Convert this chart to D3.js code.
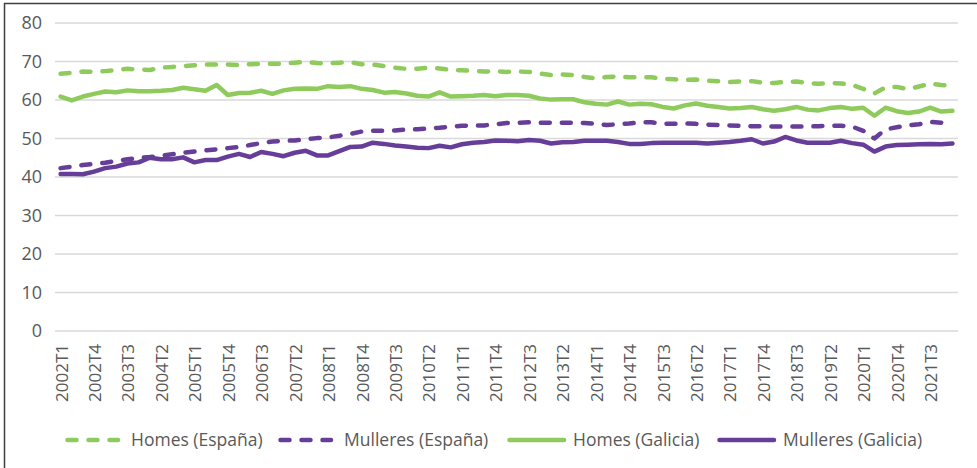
<!DOCTYPE html>
<html>
<head>
<meta charset="utf-8">
<script src="https://cdn.jsdelivr.net/npm/d3@7"></script>
<style>
  body { margin: 0; background: #fff; }
  svg { display: block; font-family: "Open Sans", sans-serif; }
</style>
</head>
<body>
<div id="chart"></div>
<script>
// quarters 2002T1 .. 2022T1
var quarters = [];
for (var y = 2002; y <= 2022; y++) {
  for (var q = 1; q <= 4; q++) {
    if (y == 2022 && q > 1) break;
    quarters.push(y + "T" + q);
  }
}

var homesEspana = [66.8, 67.1, 67.4, 67.3, 67.5, 67.8, 68.1, 67.9, 67.8, 68.4, 68.6, 68.8, 69.0, 69.2, 69.2, 69.2, 69.1, 69.3, 69.4, 69.4,
  69.4, 69.7, 69.9, 69.6, 69.5, 69.7, 69.8, 69.3, 69.2, 68.8, 68.4, 68.1, 68.1, 68.4, 68.2, 67.8, 67.7, 67.6, 67.4, 67.5,
  67.3, 67.4, 67.3, 66.9, 66.5, 66.6, 66.5, 66.0, 65.6, 66.0, 66.1, 65.9, 65.9, 65.9, 65.5, 65.4, 65.2, 65.3, 65.0, 64.9,
  64.7, 64.8, 64.9, 64.5, 64.4, 64.7, 64.8, 64.4, 64.2, 64.4, 64.3, 63.9, 62.9, 61.7, 63.3, 63.4, 62.8, 63.5, 64.3, 63.9, 63.6];

var mulleresEspana = [42.3, 42.7, 43.1, 43.4, 43.7, 44.2, 44.6, 45.0, 45.2, 45.5, 45.9, 46.3, 46.6, 46.9, 47.2, 47.5, 47.8, 48.3, 48.8, 49.2,
  49.4, 49.5, 49.8, 50.1, 50.3, 50.7, 51.2, 51.8, 52.0, 52.0, 52.1, 52.3, 52.4, 52.6, 52.8, 53.1, 53.3, 53.4, 53.4, 53.7,
  54.0, 54.1, 54.2, 54.1, 54.1, 54.1, 54.1, 54.0, 53.8, 53.5, 53.7, 53.9, 54.2, 54.2, 53.8, 53.8, 53.9, 53.8, 53.6, 53.5,
  53.4, 53.3, 53.2, 53.2, 53.1, 53.1, 53.1, 53.1, 53.2, 53.3, 53.3, 53.1, 52.0, 50.0, 52.4, 52.9, 53.4, 53.7, 54.3, 54.1, 53.8];

var homesGalicia = [60.9, 59.9, 60.9, 61.6, 62.2, 62.0, 62.5, 62.3, 62.3, 62.4, 62.6, 63.2, 62.8, 62.4, 63.9, 61.3, 61.8, 61.9, 62.4, 61.6,
  62.5, 62.9, 63.0, 62.9, 63.6, 63.4, 63.6, 62.9, 62.6, 61.9, 62.1, 61.7, 61.1, 60.9, 62.0, 60.9, 61.0, 61.1, 61.3, 61.0,
  61.3, 61.3, 61.1, 60.4, 60.1, 60.2, 60.2, 59.4, 59.0, 58.8, 59.6, 58.8, 59.0, 58.9, 58.2, 57.8, 58.6, 59.1, 58.5, 58.2,
  57.8, 57.9, 58.2, 57.6, 57.2, 57.6, 58.2, 57.5, 57.3, 57.9, 58.2, 57.7, 58.0, 55.9, 58.0, 57.1, 56.6, 57.0, 58.0, 57.0, 57.2];

var mulleresGalicia = [40.8, 40.8, 40.7, 41.4, 42.3, 42.7, 43.5, 43.8, 45.0, 44.6, 44.6, 45.1, 43.8, 44.4, 44.4, 45.3, 46.0, 45.2, 46.5, 46.0,
  45.4, 46.3, 46.8, 45.6, 45.6, 46.7, 47.8, 47.9, 48.9, 48.6, 48.2, 47.9, 47.6, 47.5, 48.1, 47.7, 48.5, 48.9, 49.1, 49.5,
  49.4, 49.3, 49.6, 49.4, 48.7, 49.0, 49.1, 49.4, 49.4, 49.4, 49.1, 48.6, 48.6, 48.8, 48.9, 48.9, 48.9, 48.9, 48.7, 48.9,
  49.1, 49.4, 49.8, 48.7, 49.2, 50.4, 49.5, 48.9, 48.9, 48.9, 49.4, 48.8, 48.4, 46.6, 47.9, 48.3, 48.4, 48.5, 48.6, 48.5, 48.7];

var yTicks = [0, 10, 20, 30, 40, 50, 60, 70, 80];

var green = "#8fcb5c", purple = "#663e99";
var series = [
  { name: "Homes (España)", values: homesEspana, color: green, dashed: true, lx: 65 },
  { name: "Mulleres (España)", values: mulleresEspana, color: purple, dashed: true, lx: 278 },
  { name: "Homes (Galicia)", values: homesGalicia, color: green, dashed: false, lx: 507 },
  { name: "Mulleres (Galicia)", values: mulleresGalicia, color: purple, dashed: false, lx: 717 }
];

var width = 977, height = 468;
var margin = { top: 23, right: 19, bottom: 137, left: 55 };

var svg = d3.select("#chart").append("svg")
    .attr("width", width)
    .attr("height", height);

// chart frame (right and bottom edges fall outside the picture)
svg.append("rect")
    .attr("x", 4.5).attr("y", 3.5)
    .attr("width", 1000).attr("height", 1000)
    .attr("fill", "none")
    .attr("stroke", "#3f3f3f")
    .attr("stroke-width", 1.5);

var x = d3.scaleBand()
    .domain(quarters)
    .range([margin.left, width - margin.right]);

var y = d3.scaleLinear()
    .domain([0, 80])
    .range([height - margin.bottom, margin.top]);

// gridlines
svg.append("g")
    .selectAll("line")
    .data(yTicks)
    .enter().append("line")
    .attr("x1", margin.left)
    .attr("x2", width - margin.right)
    .attr("y1", function(d) { return y(d); })
    .attr("y2", function(d) { return y(d); })
    .attr("stroke", "#d9d9d9")
    .attr("stroke-width", 1.5);

// y axis labels
var yAxis = svg.append("g")
    .attr("transform", "translate(" + (margin.left - 13) + ",0)")
    .call(d3.axisLeft(y).tickValues(yTicks).tickSize(0).tickPadding(0));
yAxis.select(".domain").remove();
yAxis.selectAll("text")
    .style("font-size", "18px")
    .style("font-family", "'Open Sans', sans-serif")
    .style("fill", "#595959");

// x axis labels (every third quarter)
var xAxis = svg.append("g")
    .attr("transform", "translate(0," + (height - margin.bottom) + ")")
    .call(d3.axisBottom(x)
        .tickValues(quarters.filter(function(d, i) { return i % 3 == 0; }))
        .tickSize(0));
xAxis.select(".domain").remove();
xAxis.selectAll("text")
    .style("font-size", "17px")
    .style("font-family", "'Open Sans', sans-serif")
    .style("fill", "#595959")
    .attr("transform", "rotate(-90)")
    .attr("text-anchor", "end")
    .attr("x", -13)
    .attr("y", 1)
    .attr("dy", "0.35em");

var line = d3.line()
    .x(function(d, i) { return x(quarters[i]) + x.bandwidth() / 2; })
    .y(function(d) { return y(d); });

svg.append("g")
    .selectAll("path")
    .data(series)
    .enter().append("path")
    .attr("d", function(d) { return line(d.values); })
    .attr("fill", "none")
    .attr("stroke", function(d) { return d.color; })
    .attr("stroke-width", 4.5)
    .attr("stroke-linejoin", "round")
    .attr("stroke-linecap", "round")
    .attr("stroke-dasharray", function(d) { return d.dashed ? "9 12" : null; });

// legend
var legend = svg.append("g")
    .selectAll("g")
    .data(series)
    .enter().append("g")
    .attr("transform", function(d) { return "translate(" + d.lx + ",440)"; });

legend.append("line")
    .attr("x1", 2.5)
    .attr("x2", function(d) { return d.dashed ? 53 : 57; })
    .attr("stroke", function(d) { return d.color; })
    .attr("stroke-width", 4.5)
    .attr("stroke-linecap", "round")
    .attr("stroke-dasharray", function(d) { return d.dashed ? "9 12" : null; });

legend.append("text")
    .attr("x", 66)
    .attr("dy", "0.35em")
    .style("font-size", "17.5px")
    .style("fill", "#595959")
    .text(function(d) { return d.name; });
</script>
</body>
</html>
